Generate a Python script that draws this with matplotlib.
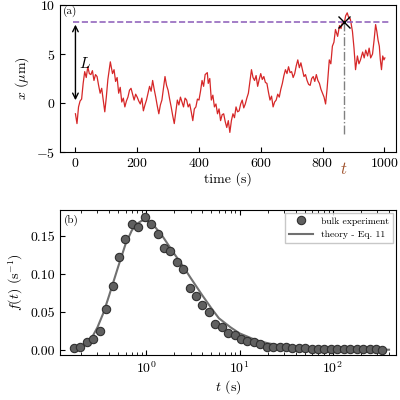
import matplotlib
matplotlib.use("Agg")
import matplotlib.pyplot as plt

plt.rcParams.update({"font.family": "serif", "font.serif": ["cmr10", "DejaVu Serif"],
                     "mathtext.fontset": "cm", "axes.formatter.use_mathtext": True,
                     "font.size": 10, "axes.unicode_minus": True})

trace_t = [0, 5, 10, 15, 20, 25, 30, 35, 40, 45, 50, 55, 60, 65, 70, 75, 80, 85, 90, 95, 100, 105, 113, 120, 125, 130,
           135, 140, 145, 150, 155, 160, 165, 170, 175, 180, 185, 190, 195, 200, 205, 210, 215, 220, 225, 230, 235, 240,
           245, 250, 255, 260, 265, 270, 275, 280, 285, 290, 295, 300, 305, 310, 315, 320, 325, 330, 335, 340, 345, 350,
           355, 360, 365, 370, 375, 380, 385, 390, 395, 400, 405, 410, 415, 420, 427, 430, 435, 440, 445, 450, 455, 460,
           465, 470, 475, 480, 485, 490, 495, 500, 505, 510, 515, 520, 525, 530, 535, 540, 545, 550, 555, 560, 565, 570,
           575, 580, 585, 590, 595, 600, 605, 610, 615, 620, 625, 630, 635, 640, 645, 650, 655, 660, 665, 670, 675, 680,
           685, 690, 695, 700, 705, 710, 715, 720, 725, 730, 735, 740, 745, 750, 755, 760, 765, 770, 775, 780, 785, 790,
           795, 800, 805, 810, 815, 822, 827, 832, 837, 842, 849, 855, 860, 865, 870, 875, 880, 886, 890, 897, 902, 907,
           913, 918, 923, 930, 935, 940, 946, 951, 956, 962, 967, 972, 976, 980, 984, 987, 991, 995, 999, 1002]
trace_x = [-1.1, -2.1, -0.4, 0.2, 0.4, 2.0, 3.2, 2.6, 3.7, 3.0, 2.9, 3.3, 2.3, 2.9, 2.7, 1.8, 1.0, 1.5, 0.3, -0.9, 0.6, 2.4, 4.2, 3.0, 3.4, 2.2, 2.6, 1.0, 1.6, 0.1, 0.5, -0.4, 0.2, 0.6, 1.3, 1.5, 0.9, 0.3, 0.9, 0.6, 0.2, -0.1, 0.5, -0.8, -0.2, 0.3, 1.0, 1.7, 1.2, 2.3, 1.4, 0.6, -0.3, -1.1, -0.2, 0.3, 1.5, 2.7, 1.8, 1.3, 0.4, -0.4, -1.3, -2.1, -0.9, 0.3, -0.2, 0.6, 0.1, -0.4, 0.5, 0.3, -0.4, -0.1, -0.9, -1.8, -0.6, -0.4, 0.4, 0.3, 1.2, 2.3, 1.7, 2.9, 3.1, 2.0, 2.5, 0.3, 0.8, -0.4, -0.1, -1.1, -0.6, -1.8, -1.2, -1.1, -1.9, -2.5, -1.8, -3.0, -1.8, -1.1, -1.5, -0.4, -0.9, -0.8, -0.1, 0.3, -0.5, -0.1, 0.5, 1.0, 2.2, 3.4, 2.6, 2.3, 2.8, 1.7, 2.4, 3.0, 2.4, 2.7, 2.1, 2.0, 1.1, 0.3, 0.7, -0.4, 0.1, 0.3, 0.9, 0.6, 1.4, 2.0, 2.8, 3.4, 3.0, 3.7, 3.1, 3.2, 2.6, 3.0, 3.8, 4.4, 3.6, 4.1, 3.4, 2.7, 2.9, 2.3, 1.9, 1.8, 2.5, 2.7, 2.2, 2.9, 2.3, 2.0, 1.4, 1.0, 0.6, -0.1, 1.5, 4.4, 4.0, 5.8, 6.2, 7.5, 6.8, 7.9, 7.6, 8.3, 8.1, 8.9, 9.2, 8.6, 8.6, 7.3, 5.6, 3.4, 4.8, 4.0, 4.4, 5.2, 4.6, 5.4, 4.8, 5.6, 4.6, 5.0, 6.4, 8.0, 7.3, 6.4, 5.8, 4.5, 3.4, 4.8, 4.4, 4.6]

t_pts = [0.168, 0.197, 0.231, 0.270, 0.317, 0.371, 0.435, 0.510, 0.597, 0.700, 0.820, 0.961, 1.126, 1.32, 1.55,
         1.81, 2.12, 2.49, 2.91, 3.41, 4.00, 4.69, 5.49, 6.43, 7.54, 8.83, 10.3, 12.1, 14.2, 16.7, 19.5, 22.9, 26.8,
         31.4, 36.8, 43.1, 50.5, 59.2, 69.4, 81.3, 95.2, 112, 131, 153, 180, 211, 247, 289, 339]
f_pts = [0.002, 0.004, 0.011, 0.015, 0.025, 0.054, 0.085, 0.123, 0.147, 0.167, 0.162, 0.176, 0.167, 0.153, 0.135,
         0.131, 0.116, 0.107, 0.082, 0.071, 0.060, 0.050, 0.035, 0.030, 0.023, 0.020, 0.014, 0.012, 0.010, 0.0075,
         0.0045, 0.0045, 0.0045, 0.004, 0.003, 0.002, 0.002, 0.0015, 0.0015, 0.001, 0.001, 0.001, 0.001, 0.001,
         0.001, 0.0008, 0.0008, 0.0008, 0.0005]
t_th = [0.2, 0.25, 0.3, 0.35, 0.4, 0.5, 0.6, 0.7, 0.8, 0.9, 1.0, 1.2, 1.5, 2, 2.5, 3, 4, 5, 6, 8, 10, 15, 20, 30,
        50, 100, 200, 400]
f_th = [0.004, 0.012, 0.03, 0.05, 0.072, 0.11, 0.14, 0.158, 0.167, 0.171, 0.171, 0.165, 0.15, 0.127, 0.11, 0.095,
        0.072, 0.055, 0.042, 0.03, 0.022, 0.013, 0.009, 0.005, 0.003, 0.0015, 0.0008, 0.0004]

fig = plt.figure(figsize=(4, 4), dpi=100)
ax1 = fig.add_axes([60/400, 1-152/400, 336/400, 147/400])
ax2 = fig.add_axes([60/400, 1-355/400, 336/400, 145/400])

ax1.plot(trace_t, trace_x, color="#d62728", lw=0.9)
ax1.axhline(8.28, xmin=0.04, xmax=0.985, color="#9467bd", ls="--", lw=1.2)
ax1.plot([870, 870], [8.28, -3.3], color="gray", ls="-.", lw=1)
ax1.plot([870], [8.28], marker="x", color="black", ms=8, mew=1)
ax1.annotate("", xy=(0, 8.28), xytext=(0, 0), arrowprops=dict(arrowstyle="<->", color="black", lw=1))
ax1.text(12, 3.6, "$L$", fontsize=11)
ax1.text(870, -5.9, "$t$", color="#a0522d", fontsize=12, ha="center", va="top")
ax1.text(-40, 9.1, "(a)", fontsize=8)
ax1.set_xlim(-50, 1038)
ax1.set_ylim(-5, 10)
ax1.set_yticks([-5, 0, 5, 10])
ax1.set_xticks([0, 200, 400, 600, 800, 1000])
ax1.set_xlabel("time (s)", labelpad=2)
ax1.set_ylabel(r"$x$ ($\mu$m)")
ax1.tick_params(direction="in")

ax2.plot(t_th, f_th, color="#707070", lw=1.5, label="theory - Eq. 11", zorder=2)
ax2.plot(t_pts, f_pts, "o", color="#606060", mec="#303030", mew=0.8, ms=6, label="bulk experiment", zorder=3)
ax2.set_xscale("log")
ax2.set_xlim(0.119, 475)
ax2.set_ylim(-0.0066, 0.185)
ax2.set_yticks([0, 0.05, 0.10, 0.15])
ax2.set_yticklabels(["0.00", "0.05", "0.10", "0.15"])
ax2.set_xlabel("$t$ (s)", labelpad=2)
ax2.set_ylabel(r"$f(t)$ (s$^{-1}$)")
ax2.tick_params(direction="in", which="both", top=True)
ax2.text(0.13, 0.168, "(b)", fontsize=8)
h, l = ax2.get_legend_handles_labels()
leg = ax2.legend(h[::-1], l[::-1], loc="upper right", fontsize=7, fancybox=False, edgecolor="#bbbbbb",
                 borderaxespad=0.3, handlelength=2.5)

fig.savefig("out.png", dpi=100)
